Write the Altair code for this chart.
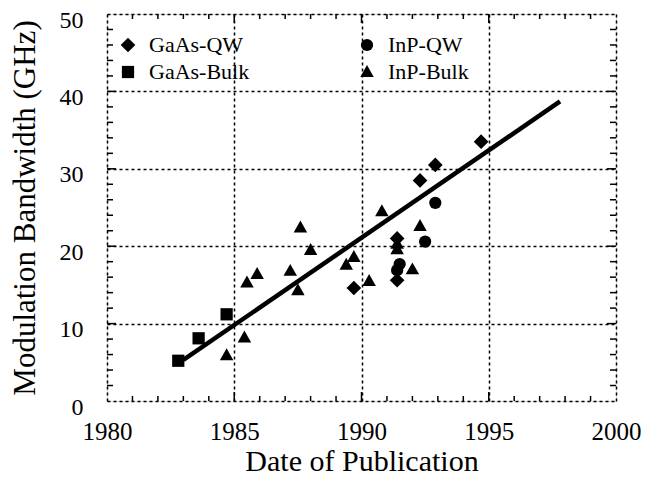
import altair as alt
import pandas as pd

# ---- data ----
gaas_qw_year = [1989.7, 1991.4, 1991.4, 1992.3, 1992.9, 1994.7]
gaas_qw_bw = [14.6, 21.0, 15.6, 28.5, 30.5, 33.5]

gaas_bulk_year = [1982.8, 1983.6, 1984.7]
gaas_bulk_bw = [5.2, 8.1, 11.2]

inp_qw_year = [1991.5, 1991.4, 1992.5, 1992.9]
inp_qw_bw = [17.7, 16.9, 20.6, 25.6]

inp_bulk_year = [1984.7, 1985.4, 1985.5, 1985.9, 1987.2, 1987.5, 1987.6, 1988.0,
                 1989.4, 1989.7, 1990.3, 1990.8, 1991.4, 1991.4, 1992.0, 1992.3]
inp_bulk_bw = [5.9, 8.2, 15.3, 16.4, 16.8, 14.3, 22.4, 19.5,
               17.6, 18.6, 15.5, 24.5, 20.3, 19.6, 17.0, 22.6]

fit_year = [1983.0, 1997.8]
fit_bw = [5.3, 38.7]

x_ticks = [1980, 1985, 1990, 1995, 2000]
y_ticks = [0, 10, 20, 30, 40, 50]
x_minor = [1981, 1982, 1983, 1984, 1986, 1987, 1988, 1989,
           1991, 1992, 1993, 1994, 1996, 1997, 1998, 1999]
x_major = [1985, 1990, 1995]
y_minor = [2, 4, 6, 8, 12, 14, 16, 18, 22, 24, 26, 28,
           32, 34, 36, 38, 42, 44, 46, 48]
y_major = [10, 20, 30, 40]

# legend is laid out column by column: GaAs in column 1, InP in column 2
series_order = ["GaAs-QW", "GaAs-Bulk", "InP-QW", "InP-Bulk"]
series_shapes = ["M0,-1.2L1.2,0L0,1.2L-1.2,0Z", "square", "circle",
                 "M0,-1.15L1.1,0.8L-1.1,0.8Z"]

rows = []
for name, ys, vs in [("GaAs-QW", gaas_qw_year, gaas_qw_bw),
                     ("GaAs-Bulk", gaas_bulk_year, gaas_bulk_bw),
                     ("InP-QW", inp_qw_year, inp_qw_bw),
                     ("InP-Bulk", inp_bulk_year, inp_bulk_bw)]:
    for y, v in zip(ys, vs):
        rows.append({"year": y, "bw": v, "series": name})
pts = pd.DataFrame(rows)
fit = pd.DataFrame({"year": fit_year, "bw": fit_bw})
xm = pd.DataFrame({"year": x_minor})
xM = pd.DataFrame({"year": x_major})
ym = pd.DataFrame({"bw": y_minor})
yM = pd.DataFrame({"bw": y_major})

W, H = 509, 387
FONT = "Liberation Serif"

xscale = alt.Scale(domain=[1980, 2000], nice=False, zero=False)
yscale = alt.Scale(domain=[0, 50], nice=False)

xaxis = alt.Axis(values=x_ticks, format="d", ticks=False, domain=False, labelFlush=False,
                 grid=True, gridDash=[3, 3], gridColor="black", gridWidth=1.5,
                 labelFont=FONT, labelFontSize=25, labelColor="black", labelPadding=18,
                 title="Date of Publication", titleFont=FONT, titleFontSize=30,
                 titleFontWeight="normal", titleColor="black", titlePadding=2)
yaxis = alt.Axis(values=y_ticks, ticks=False, domain=False, labelFlush=False,
                 grid=True, gridDash=[3, 3], gridColor="black", gridWidth=1.5,
                 labelFont=FONT, labelFontSize=24, labelColor="black", labelPadding=24,
                 labelOffset=6,
                 title="Modulation Bandwidth (GHz)", titleFont=FONT, titleFontSize=31,
                 titleFontWeight="normal", titleColor="black", titlePadding=18)

base_pts = alt.Chart(pts).mark_point(filled=True, opacity=1, size=150).encode(
    x=alt.X("year:Q", scale=xscale, axis=xaxis),
    y=alt.Y("bw:Q", scale=yscale, axis=yaxis),
    color=alt.value("black"),
    shape=alt.Shape("series:N",
                    scale=alt.Scale(domain=series_order, range=series_shapes),
                    legend=alt.Legend(title=None, orient="none", legendX=10, legendY=20,
                                      columns=2,
                                      labelFont=FONT, labelFontSize=22, labelColor="black",
                                      symbolFillColor="black", symbolStrokeColor="black",
                                      symbolSize=150, labelOffset=10, columnPadding=106,
                                      rowPadding=5, padding=0)),
)

line = alt.Chart(fit).mark_line(color="black", strokeWidth=4.5).encode(
    x=alt.X("year:Q", scale=xscale), y=alt.Y("bw:Q", scale=yscale))

def xt(df, y0, y1):
    return alt.Chart(df).mark_rule(color="black", strokeWidth=1.5).encode(
        x=alt.X("year:Q", scale=xscale), y=alt.value(y0), y2=alt.value(y1))

def yt(df, x0, x1):
    return alt.Chart(df).mark_rule(color="black", strokeWidth=1.5).encode(
        y=alt.Y("bw:Q", scale=yscale), x=alt.value(x0), x2=alt.value(x1))

ticks = [xt(xm, H, H - 5), xt(xm, 0, 5), xt(xM, H, H - 9), xt(xM, 0, 9),
         yt(ym, 0, 6), yt(ym, W, W - 6), yt(yM, 0, 9), yt(yM, W, W - 9)]

chart = alt.layer(base_pts, line, *ticks).properties(
    width=W, height=H,
    autosize=alt.AutoSizeParams(type="none"),
    padding={"left": 99, "top": 6, "right": 25, "bottom": 78},
).configure_view(stroke="black", strokeWidth=2.5).configure(background="white")

chart.save("out.html", embed_options={"renderer": "svg", "actions": False})
